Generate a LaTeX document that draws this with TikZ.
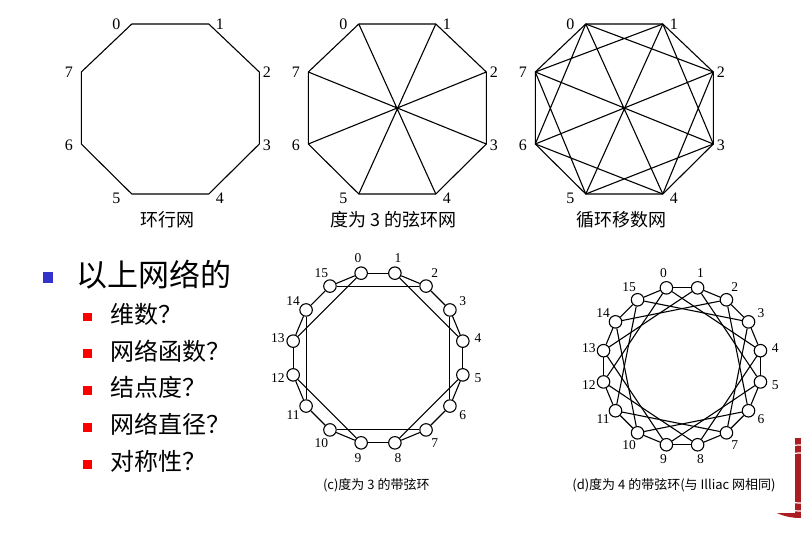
\documentclass[tikz,border=0pt]{standalone}
\usepackage{fontspec}
\setmainfont{Liberation Serif}
\newfontfamily\cjk{Noto Sans CJK SC}
\usetikzlibrary{positioning}
\definecolor{bulblue}{RGB}{51,51,204}
\definecolor{bulred}{RGB}{250,0,0}
\definecolor{sealred}{RGB}{170,30,35}
\tikzset{
link/.style={line width=1.1pt, line join=round}, % every edge of a network
pe/.style={circle, draw, line width=1.1pt, fill=white, inner sep=0pt, minimum size=12.5pt}, % a node of the chordal rings
octnum/.style={font=\fontsize{16}{16}\selectfont}, % numbers round the octagons
ringnum/.style={font=\fontsize{13.5}{13.5}\selectfont}, % numbers round the rings
topcap/.style={font=\cjk\fontsize{18}{18}\selectfont},
ringcap/.style={font=\cjk\fontsize{13}{13}\selectfont},
headtext/.style={font=\cjk\fontsize{31}{31}\selectfont, inner sep=0pt},
subtext/.style={font=\cjk\fontsize{24}{24}\selectfont, inner sep=0pt},
bluesq/.style={fill=bulblue, inner sep=0pt, minimum size=10.5pt},
redsq/.style={fill=bulred, inner sep=0pt, minimum size=8.7pt},
}

\begin{document}
\begin{tikzpicture}[x=1pt, y=-1pt]
  \useasboundingbox (0,0) rectangle (801,535);

  % seal peeping out behind picture (d)
  \fill[sealred] (800,478) ellipse [x radius=48, y radius=40];
  \draw[white, line width=1.2pt] (800,478) ellipse [x radius=40, y radius=33]
        (800,478) ellipse [x radius=30, y radius=25];
  \fill[white] (585,255) rectangle (795,513);

  % the three octagons
  \foreach \o/\cx in {a/170.3, b/397.3, s/624.3} {
    \foreach \i/\px/\py/\lx/\ly in {0/-38.5/-85/-54/-85, 1/38.5/-85/49.5/-85,
        2/89/-37/96.5/-37, 3/89/35/96.5/36, 4/38.5/85/49.5/89,
        5/-38.5/85/-54/89, 6/-89/35/-101.5/36, 7/-89/-37/-101.5/-37} {
      \coordinate (\o\i) at ({\cx+\px},{109+\py});
      \node[octnum] (l\o\i) at ({\cx+\lx},{109+\ly}) {\i};
    }
  }
  \draw[link] (a0) -- (a1) -- (a2) -- (a3) -- (a4) -- (a5) -- (a6) -- (a7) -- cycle;

  \draw[link] (b0) -- (b1) -- (b2) -- (b3) -- (b4) -- (b5) -- (b6) -- (b7) -- cycle;
  \draw[link] (b0) -- (b4) (b1) -- (b5) (b2) -- (b6) (b3) -- (b7);

  \draw[link] (s0) -- (s1) -- (s2) -- (s3) -- (s4) -- (s5) -- (s6) -- (s7) -- cycle;
  \draw[link] (s0) -- (s4) (s1) -- (s5) (s2) -- (s6) (s3) -- (s7);
  \draw[link] (s0) -- (s2) -- (s4) -- (s6) -- cycle (s1) -- (s3) -- (s5) -- (s7) -- cycle;

  \node[topcap] (capa) at (167.7,220) {环行网};
  \node[topcap] (capb) at (393.3,220) {度为 3 的弦环网};
  \node[topcap] (caps) at (621,220) {循环移数网};

  % bullet list
  \node[bluesq] (mainbul) at (48,277.5) {};
  \node[headtext, right=23pt of mainbul, yshift=3pt] (head) {以上网络的};
  \node[redsq] (r1) at (87.7,317) {};
  \node[redsq, below=27.7pt of r1] (r2) {};
  \node[redsq, below=27.7pt of r2] (r3) {};
  \node[redsq, below=27.7pt of r3] (r4) {};
  \node[redsq, below=27.7pt of r4] (r5) {};
  \node[subtext, right=18pt of r1, yshift=3pt] (t1) {维数？};
  \node[subtext, right=18pt of r2, yshift=3pt] (t2) {网络函数？};
  \node[subtext, right=18pt of r3, yshift=3pt] (t3) {结点度？};
  \node[subtext, right=18pt of r4, yshift=3pt] (t4) {网络直径？};
  \node[subtext, right=18pt of r5, yshift=3pt] (t5) {对称性？};

  % (c) chordal ring of degree 3
  \begin{scope}[shift={(378,358)}]
    \foreach \k in {0,...,15} {
      \node[pe] (c\k) at ({22.5*\k-101.25}:86.5) {};
      \node[ringnum] (lc\k) at ({22.5*\k-101.25}:102) {\k};
    }
  \end{scope}
  \foreach \k [evaluate=\k as \n using {int(mod(\k+1,16))}] in {0,...,15}
    \draw[link] (c\k) -- (c\n);
  \foreach \k [evaluate=\k as \n using {int(mod(\k+3,16))}] in {1,3,...,15}
    \draw[link] (c\k) -- (c\n);
  \node[ringcap] (capc) at (376.3,485) {(c)度为 3 的带弦环};

  % (d) chordal ring of degree 4
  \begin{scope}[shift={(682,366.3)}]
    \foreach \k in {0,...,15} {
      \node[pe] (d\k) at ({22.5*\k-101.25}:80) {};
      \node[ringnum] (ld\k) at ({22.5*\k-101.25}:95) {\k};
    }
  \end{scope}
  \foreach \k [evaluate=\k as \n using {int(mod(\k+1,16))}] in {0,...,15}
    \draw[link] (d\k) -- (d\n);
  \foreach \k [evaluate=\k as \n using {int(mod(\k+4,16))}] in {0,...,15}
    \draw[link] (d\k) -- (d\n);
  \node[ringcap] (capd) at (674,485) {(d)度为 4 的带弦环(与 Illiac 网相同)};

\end{tikzpicture}
\end{document}
